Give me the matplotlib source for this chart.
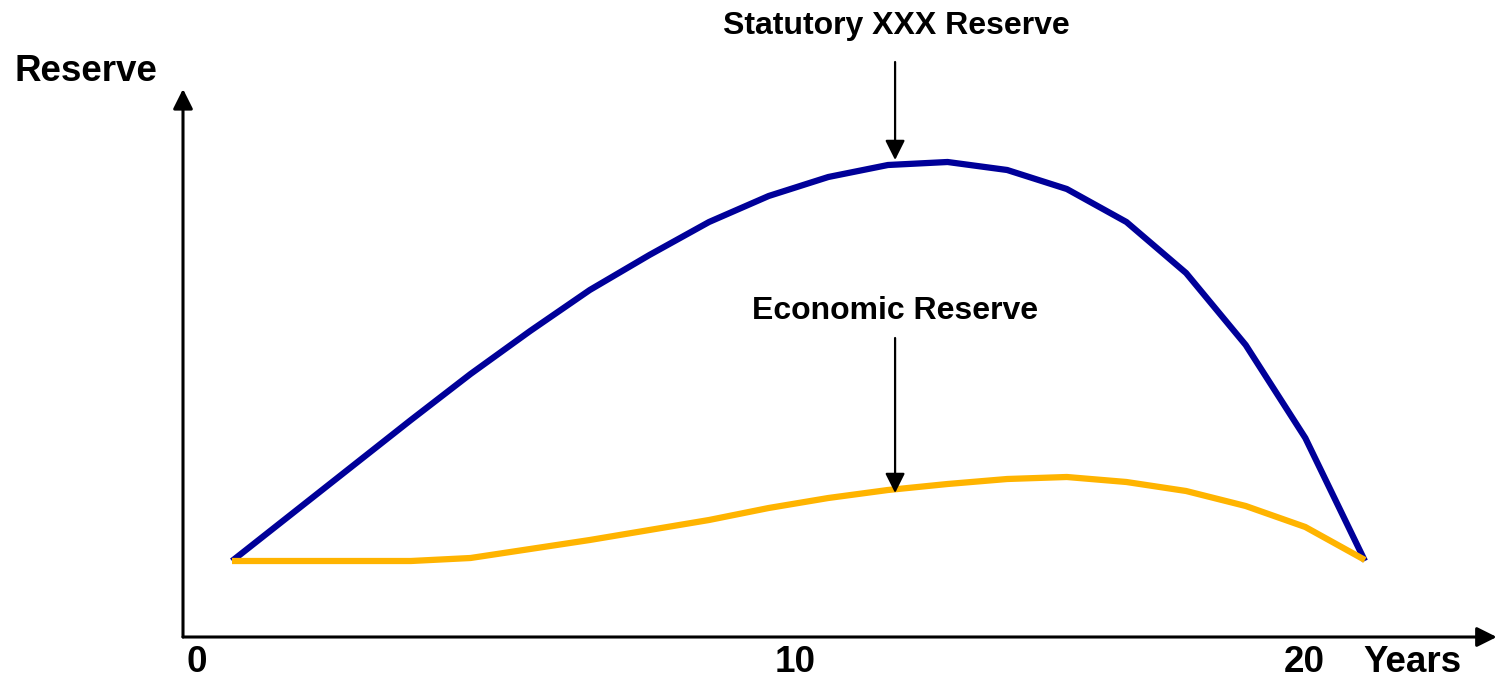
import matplotlib
matplotlib.use("Agg")
import matplotlib.pyplot as plt

plt.rcParams['font.family'] = ['Liberation Sans', 'DejaVu Sans']

# policy years and reserve levels (arbitrary units)
years = list(range(1, 21))
statutory = [76, 123, 170, 217, 263, 306, 347, 382, 415, 441,
             460, 472, 475, 467, 448, 415, 364, 292, 199, 76]
economic = [76, 76, 76, 76, 79, 88, 97, 107, 117, 129,
            139, 147, 153, 158, 160, 155, 146, 131, 110, 77]

tick_labels = ["0", "10", "20"]
tick_pos = [0.41, 10.44, 18.98]

fig = plt.figure(figsize=(14.99, 6.81), dpi=100)
ax = fig.add_axes([0, 0, 1, 1])
ax.set_xlim(-2.891, 22.248)
ax.set_ylim(-44, 637)
ax.axis("off")

# axes drawn as arrows
arrow = dict(arrowstyle='-|>', lw=2.2, color='black', mutation_scale=30,
             shrinkA=0, shrinkB=0)
ax.annotate('', xy=(0.178, 548), xytext=(0.178, 0), arrowprops=arrow)
ax.annotate('', xy=(22.21, 0), xytext=(0.178, 0), arrowprops=arrow)

ax.plot(years, statutory, color='#000099', lw=4.5, solid_capstyle='butt')
ax.plot(years, economic, color='#FFB400', lw=4.5, solid_capstyle='butt')

# labels
bold = dict(fontweight='bold', color='black')
ax.text(-2.656, 556, "Reserve", fontsize=26.5, ha='left', va='baseline', **bold)
for lab, x in zip(tick_labels, tick_pos):
    ax.text(x, -35, lab, fontsize=26.5, ha='center', va='baseline', **bold)
ax.text(20.79, -35, "Years", fontsize=26.5, ha='center', va='baseline', **bold)

ax.text(12.15, 603, "Statutory XXX Reserve", fontsize=23, ha='center',
        va='baseline', **bold)
ax.text(12.12, 318, "Economic Reserve", fontsize=23, ha='center',
        va='baseline', **bold)

pointer = dict(arrowstyle='-|>', lw=1.6, color='black', mutation_scale=30,
               shrinkA=0, shrinkB=0)
ax.annotate('', xy=(12.12, 477), xytext=(12.12, 575), arrowprops=pointer)
ax.annotate('', xy=(12.12, 144), xytext=(12.12, 299), arrowprops=pointer)

fig.savefig("out.png", dpi=100)
